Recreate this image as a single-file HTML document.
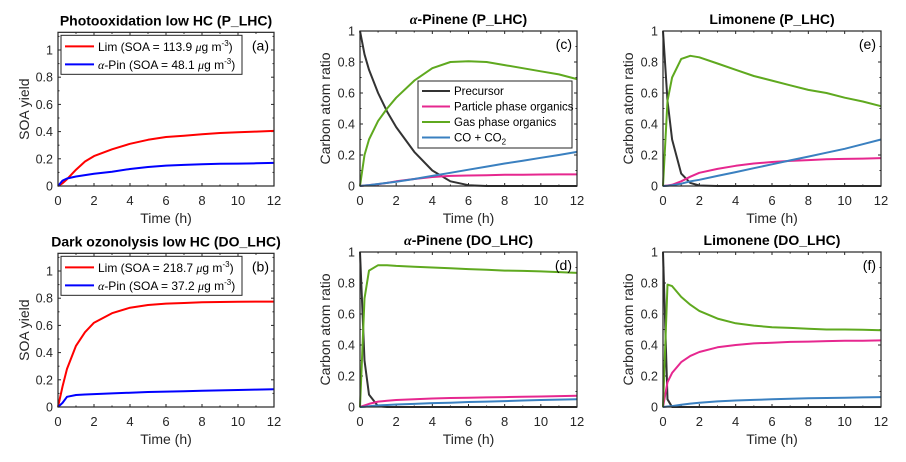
<!DOCTYPE html>
<html><head><meta charset="utf-8"><style>
body{margin:0;background:#fff;width:906px;height:457px;overflow:hidden}
svg{font-family:"Liberation Sans",sans-serif}
</style></head><body>
<svg id="fig" width="906" height="457"></svg>
<script>
const times=[0,0.25,0.5,1,1.5,2,3,4,5,6,7,8,9,10,11,12];
const aLim=[0,0.02,0.05,0.12,0.18,0.22,0.27,0.31,0.34,0.36,0.37,0.38,0.39,0.395,0.40,0.405];
const aPin=[0,0.04,0.055,0.07,0.08,0.09,0.105,0.125,0.14,0.15,0.155,0.16,0.163,0.165,0.167,0.17];
const bLim=[0,0.15,0.28,0.45,0.55,0.62,0.69,0.73,0.75,0.76,0.765,0.77,0.772,0.774,0.775,0.775];
const bPin=[0,0.03,0.075,0.088,0.092,0.095,0.1,0.105,0.11,0.113,0.116,0.12,0.122,0.125,0.128,0.13];
const cPre=[1,0.85,0.75,0.6,0.48,0.38,0.22,0.1,0.03,0.005,0,0,0,0,0,0];
const cPar=[0,0.003,0.006,0.012,0.02,0.03,0.045,0.058,0.065,0.068,0.07,0.072,0.073,0.074,0.075,0.075];
const cGas=[0,0.2,0.3,0.42,0.5,0.57,0.68,0.76,0.8,0.805,0.8,0.78,0.76,0.74,0.72,0.69];
const cCO=[0,0.003,0.006,0.013,0.02,0.028,0.045,0.065,0.085,0.105,0.125,0.145,0.163,0.182,0.2,0.22];
const dPre=[1,0.3,0.08,0.005,0,0,0,0,0,0,0,0,0,0,0,0];
const dPar=[0,0.01,0.02,0.035,0.04,0.045,0.05,0.055,0.058,0.06,0.062,0.064,0.066,0.068,0.07,0.072];
const dGas=[0,0.7,0.88,0.915,0.915,0.91,0.905,0.9,0.895,0.89,0.885,0.88,0.878,0.875,0.87,0.865];
const dCO=[0,0.002,0.005,0.01,0.013,0.016,0.02,0.025,0.028,0.032,0.035,0.038,0.042,0.045,0.048,0.05];
const ePre=[1,0.55,0.3,0.08,0.02,0.003,0,0,0,0,0,0,0,0,0,0];
const ePar=[0,0.003,0.008,0.03,0.06,0.085,0.11,0.13,0.145,0.155,0.162,0.167,0.172,0.175,0.177,0.18];
const eGas=[0,0.55,0.7,0.82,0.84,0.83,0.79,0.75,0.71,0.68,0.65,0.62,0.6,0.57,0.545,0.515];
const eCO=[0,0.002,0.005,0.015,0.03,0.04,0.065,0.09,0.115,0.14,0.165,0.19,0.215,0.24,0.27,0.3];
const fPre=[1,0.05,0,0,0,0,0,0,0,0,0,0,0,0,0,0];
const fPar=[0,0.16,0.22,0.29,0.33,0.355,0.385,0.40,0.41,0.415,0.42,0.422,0.425,0.427,0.428,0.43];
const fGas=[0,0.79,0.78,0.71,0.66,0.62,0.57,0.54,0.525,0.515,0.51,0.505,0.5,0.5,0.498,0.495];
const fCO=[0,0.003,0.006,0.015,0.022,0.028,0.036,0.042,0.046,0.05,0.053,0.056,0.058,0.06,0.062,0.064];
const xTicks=[0,2,4,6,8,10,12];
const yTicks=[0,0.2,0.4,0.6,0.8,1];
const yTickLabels=["0","0.2","0.4","0.6","0.8","1"];

const NS="http://www.w3.org/2000/svg";
const fig=document.getElementById('fig');
function mk(tag,attrs,parent,text){const e=document.createElementNS(NS,tag);for(const k in attrs)e.setAttribute(k,attrs[k]);if(text!==undefined)e.textContent=text;(parent||fig).appendChild(e);return e;}
const C={pre:'#333333',par:'#e6278f',gas:'#5fa91f',co:'#3a80c0'};

function panel(o){
  const g=mk('g',{});
  
  
  const X=v=>o.x0+(o.x1-o.x0)*v/12;
  const Y=v=>o.y0-(o.y0-o.y1)*v/o.yUnit;
  const top=Y(o.ymax);
  const fr=mk('rect',{x:o.x0,y:top,width:o.x1-o.x0,height:o.y0-top,fill:'#fff',stroke:'none'},g);
  
  const xt=mk('g',{},g);
  xTicks.forEach(t=>{
    mk('line',{x1:X(t),x2:X(t),y1:o.y0,y2:o.y0-3,stroke:'#262626'},xt);
    mk('line',{x1:X(t),x2:X(t),y1:top,y2:top+3,stroke:'#262626'},xt);
    const l=mk('text',{x:X(t),y:o.y0+19,'text-anchor':'middle','font-size':13,fill:'#262626'},xt,String(t));
    
  });
  for(let t=1;t<12;t+=2){mk('line',{x1:X(t),x2:X(t),y1:o.y0,y2:o.y0-1.5,stroke:'#262626'},xt);mk('line',{x1:X(t),x2:X(t),y1:top,y2:top+1.5,stroke:'#262626'},xt);}
  const yt=mk('g',{},g);
  yTicks.forEach((t,i)=>{
    mk('line',{x1:o.x0,x2:o.x0+3,y1:Y(t),y2:Y(t),stroke:'#262626'},yt);
    mk('line',{x1:o.x1,x2:o.x1-3,y1:Y(t),y2:Y(t),stroke:'#262626'},yt);
    const l=mk('text',{x:o.x0-5,y:Y(t)+4.5,'text-anchor':'end','font-size':12.5,fill:'#262626'},yt,yTickLabels[i]);
    
  });
  for(let t=0.1;t<o.ymax;t+=0.2){mk('line',{x1:o.x0,x2:o.x0+1.5,y1:Y(t),y2:Y(t),stroke:'#262626'},yt);mk('line',{x1:o.x1,x2:o.x1-1.5,y1:Y(t),y2:Y(t),stroke:'#262626'},yt);}
  o.series.forEach(s=>{
    const p=mk('polyline',{points:times.map((t,i)=>X(t).toFixed(1)+','+Y(s.v[i]).toFixed(1)).join(' '),fill:'none',stroke:s.c,'stroke-width':2,'stroke-linejoin':'round'},g);
    
  });
  mk('rect',{x:o.x0,y:top,width:o.x1-o.x0,height:o.y0-top,fill:'none',stroke:'#262626','stroke-width':1.2},g);
  const ti=mk('text',{x:(o.x0+o.x1)/2,y:top-7,'text-anchor':'middle','font-size':14,'font-weight':'bold',fill:'#000'},g);
  ti.innerHTML=o.title;
  const xl=mk('text',{x:(o.x0+o.x1)/2,y:o.y0+37,'text-anchor':'middle','font-size':14,fill:'#262626'},g,'Time (h)');
  
  const yl=mk('text',{x:0,y:0,'text-anchor':'middle','font-size':14,fill:'#262626',transform:`translate(${o.x0-o.yoff},${(o.y0+top)/2}) rotate(-90)`},g,o.ylab);
  
  const lt=mk('text',{x:o.x1-5,y:top+18,'text-anchor':'end','font-size':14,fill:'#000'},g,o.letter);
  
  if(o.leg){
    const lg=mk('g',{},g);
    mk('rect',{x:o.x0+3,y:top+3,width:181,height:39,fill:'#fff',stroke:'#262626','stroke-width':1},lg);
    o.leg.forEach((e,i)=>{
      const yy=top+14+i*18;
      mk('line',{x1:o.x0+7,x2:o.x0+36,y1:yy,y2:yy,stroke:e.c,'stroke-width':2},lg);
      const t=mk('text',{x:o.x0+40,y:yy+4.5,'font-size':12,fill:'#000'},lg);t.innerHTML=e.t;
      
    });
  }
  return {X,Y};
}
const sup='<tspan font-size="8" dy="-5">-3</tspan><tspan dy="5">)</tspan>';
const mu='<tspan font-family="Liberation Serif" font-style="italic">μ</tspan>';
const alpha='<tspan font-family="Liberation Serif" font-style="italic">α</tspan>';
panel({id:'a',x0:58,x1:274,y0:186,y1:50,yUnit:1,ymax:1.13,yoff:29,title:'Photooxidation low HC (P_LHC)',ylab:'SOA yield',letter:'(a)',
 series:[{v:aLim,c:'#ff0000',n:'line-lim'},{v:aPin,c:'#0000ff',n:'line-apin'}],
 leg:[{c:'#ff0000',t:'Lim (SOA = 113.9 '+mu+'g m'+sup},{c:'#0000ff',t:alpha+'-Pin (SOA = 48.1 '+mu+'g m'+sup}]});
panel({id:'b',x0:58,x1:274,y0:407,y1:271,yUnit:1,ymax:1.13,yoff:29,title:'Dark ozonolysis low HC (DO_LHC)',ylab:'SOA yield',letter:'(b)',
 series:[{v:bLim,c:'#ff0000',n:'line-lim'},{v:bPin,c:'#0000ff',n:'line-apin'}],
 leg:[{c:'#ff0000',t:'Lim (SOA = 218.7 '+mu+'g m'+sup},{c:'#0000ff',t:alpha+'-Pin (SOA = 37.2 '+mu+'g m'+sup}]});
function four(p,pr,pa,ga,co){return [{v:pr,c:C.pre,n:'line-precursor'},{v:pa,c:C.par,n:'line-particle'},{v:ga,c:C.gas,n:'line-gas'},{v:co,c:C.co,n:'line-co-co2'}];}
panel({id:'c',x0:360,x1:577,y0:186,y1:31,yUnit:1,ymax:1,yoff:30,title:alpha+'-Pinene (P_LHC)',ylab:'Carbon atom ratio',letter:'(c)',series:four('c',cPre,cPar,cGas,cCO)});
panel({id:'d',x0:360,x1:577,y0:407,y1:252,yUnit:1,ymax:1,yoff:30,title:alpha+'-Pinene (DO_LHC)',ylab:'Carbon atom ratio',letter:'(d)',series:four('d',dPre,dPar,dGas,dCO)});
panel({id:'e',x0:663,x1:881,y0:186,y1:31,yUnit:1,ymax:1,yoff:30,title:'Limonene (P_LHC)',ylab:'Carbon atom ratio',letter:'(e)',series:four('e',ePre,ePar,eGas,eCO)});
panel({id:'f',x0:663,x1:881,y0:407,y1:252,yUnit:1,ymax:1,yoff:30,title:'Limonene (DO_LHC)',ylab:'Carbon atom ratio',letter:'(f)',series:four('f',fPre,fPar,fGas,fCO)});
const lg=mk('g',{});
mk('rect',{x:418,y:81,width:154,height:67,fill:'#fff',stroke:'#262626'},lg);
[['Precursor',C.pre],['Particle phase organics',C.par],['Gas phase organics',C.gas],['CO + CO<tspan font-size="8" dy="3">2</tspan>',C.co]].forEach((e,i)=>{
  const yy=91+i*15.5;
  mk('line',{x1:422,x2:450,y1:yy,y2:yy,stroke:e[1],'stroke-width':2},lg);
  const t=mk('text',{x:454,y:yy+4,'font-size':11.5,fill:'#000'},lg);t.innerHTML=e[0];
  
});
</script>
</body></html>
